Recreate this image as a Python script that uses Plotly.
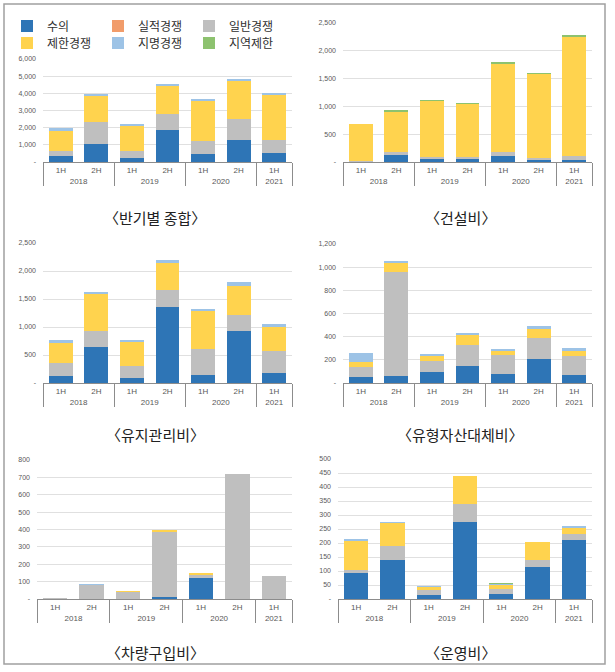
import plotly.graph_objects as go

years = ["2018", "2018", "2019", "2019", "2020", "2020", "2021"]
halves = ["1H", "2H", "1H", "2H", "1H", "2H", "1H"]

series_names = ["수의", "실적경쟁", "일반경쟁", "제한경쟁", "지명경쟁", "지역제한"]
series_colors = ["#2E75B6", "#F19C6B", "#BFBFBF", "#FFD34E", "#9DC3E6", "#8DC26F"]

titles = ["〈반기별 종합〉", "〈건설비〉", "〈유지관리비〉", "〈유형자산대체비〉", "〈차량구입비〉", "〈운영비〉"]

# panel 1: 반기별 종합
total_suui = [330, 1020, 255, 1840, 470, 1270, 510]
total_silj = [0, 0, 0, 0, 0, 0, 0]
total_ilban = [300, 1290, 410, 960, 730, 1260, 780]
total_jehan = [1180, 1570, 1490, 1650, 2370, 2170, 2590]
total_jimyeong = [200, 80, 55, 100, 100, 120, 160]
total_jiyeok = [0, 0, 0, 0, 0, 0, 0]

# panel 2: 건설비
con_suui = [5, 132, 54, 54, 100, 42, 36]
con_silj = [0, 0, 0, 0, 0, 0, 0]
con_ilban = [10, 48, 30, 36, 74, 30, 72]
con_jehan = [675, 737, 1019, 965, 1606, 1518, 2140]
con_jimyeong = [0, 0, 0, 0, 0, 0, 0]
con_jiyeok = [0, 5, 10, 3, 12, 10, 36]

# panel 3: 유지관리비
mnt_suui = [132, 646, 90, 1352, 150, 921, 179]
mnt_silj = [0, 0, 0, 0, 0, 0, 0]
mnt_ilban = [227, 281, 209, 305, 454, 287, 395]
mnt_jehan = [359, 670, 443, 490, 682, 532, 425]
mnt_jimyeong = [48, 12, 18, 42, 36, 60, 54]
mnt_jiyeok = [0, 0, 0, 0, 0, 0, 0]

# panel 4: 유형자산대체비
ast_suui = [49, 58, 95, 147, 78, 204, 72]
ast_silj = [0, 0, 0, 0, 0, 0, 0]
ast_ilban = [89, 897, 95, 181, 161, 187, 158]
ast_jehan = [43, 87, 49, 89, 37, 72, 46]
ast_jimyeong = [81, 11, 11, 18, 20, 26, 29]
ast_jiyeok = [0, 0, 0, 0, 0, 0, 0]

# panel 5: 차량구입비
veh_suui = [0, 0, 0, 10, 119, 0, 0]
veh_silj = [0, 0, 0, 0, 0, 0, 0]
veh_ilban = [3, 81, 42, 378, 21, 719, 131]
veh_jehan = [0, 0, 4, 6, 6, 0, 0]
veh_jimyeong = [0, 2, 0, 0, 0, 0, 0]
veh_jiyeok = [0, 0, 0, 0, 0, 0, 0]

# panel 6: 운영비
opr_suui = [92, 139, 14, 275, 18, 114, 209]
opr_silj = [0, 0, 0, 0, 0, 0, 0]
opr_ilban = [11, 50, 17, 65, 17, 25, 22]
opr_jehan = [105, 85, 12, 100, 15, 64, 24]
opr_jimyeong = [4, 1, 2, 0, 4, 0, 5]
opr_jiyeok = [0, 0, 0, 0, 1, 0, 0]

panels = [
    [total_suui, total_silj, total_ilban, total_jehan, total_jimyeong, total_jiyeok],
    [con_suui, con_silj, con_ilban, con_jehan, con_jimyeong, con_jiyeok],
    [mnt_suui, mnt_silj, mnt_ilban, mnt_jehan, mnt_jimyeong, mnt_jiyeok],
    [ast_suui, ast_silj, ast_ilban, ast_jehan, ast_jimyeong, ast_jiyeok],
    [veh_suui, veh_silj, veh_ilban, veh_jehan, veh_jimyeong, veh_jiyeok],
    [opr_suui, opr_silj, opr_ilban, opr_jehan, opr_jimyeong, opr_jiyeok],
]

y_max = [6000, 2500, 2500, 1200, 800, 500]
y_step = [1000, 500, 500, 200, 100, 50]

W, H = 615, 672
# plot-area boxes in pixels: (left, right, top, bottom)
boxes = [
    (43, 292, 59, 162),
    (343, 592, 23, 162),
    (43, 292, 243, 383),
    (343, 592, 244, 383),
    (37, 292, 460, 599),
    (338, 592, 459, 599),
]
title_pos = [(155, 217), (460, 217), (155, 434), (460, 434), (155, 652), (460, 652)]

fig = go.Figure()
TICK_FONT = dict(family="Liberation Sans, Arial", size=7, color="#595959")
XTICK_FONT = dict(family="Liberation Sans, Arial", size=8, color="#595959")

for p, series in enumerate(panels):
    ax = "" if p == 0 else str(p + 1)
    for s, vals in enumerate(series):
        fig.add_trace(go.Bar(
            x=[years, halves], y=vals, name=series_names[s],
            marker=dict(color=series_colors[s], line=dict(width=0)),
            xaxis="x" + ax, yaxis="y" + ax,
            showlegend=(p == 0),
            legend=("legend" if s < 3 else "legend2"),
            legendgroup=series_names[s],
            hoverinfo="y+name",
        ))
    l, r, t, b = boxes[p]
    tv = list(range(0, y_max[p] + 1, y_step[p]))
    tt = ["-" if v == 0 else f"{v:,}" for v in tv]
    fig.update_layout(**{
        "xaxis" + ax: dict(
            domain=[l / W, r / W], anchor="y" + ax, type="multicategory",
            showline=True, linecolor="#8c8c8c", linewidth=1,
            showdividers=True, dividercolor="#8c8c8c", dividerwidth=1,
            tickfont=XTICK_FONT, ticks="", showgrid=False, automargin=False,
        ),
        "yaxis" + ax: dict(
            domain=[1 - b / H, 1 - t / H], anchor="x" + ax,
            range=[0, y_max[p]], tickvals=tv, ticktext=tt,
            showgrid=True, gridcolor="#e0e0e0", gridwidth=0.8,
            zeroline=False, showline=False, tickfont=TICK_FONT,
            ticklabelstandoff=6, automargin=False,
        ),
    })
    tx, ty = title_pos[p]
    fig.add_annotation(
        x=tx / W, y=1 - ty / H, xref="paper", yref="paper",
        xanchor="center", yanchor="middle",
        text=titles[p], showarrow=False,
        font=dict(family="Noto Sans CJK KR", size=15, color="#222222"),
    )

# outer frame
fig.add_shape(type="rect", xref="paper", yref="paper",
              x0=4 / W, x1=605 / W, y0=1 - 664 / H, y1=1 - 4 / H,
              line=dict(color="#a0a0a0", width=1.5))

LEG_FONT = dict(family="Noto Sans CJK KR", size=12, color="#303030")
fig.update_layout(
    width=W, height=H,
    margin=dict(l=0, r=0, t=0, b=0, autoexpand=False),
    paper_bgcolor="white", plot_bgcolor="white",
    barmode="stack", bargap=0.33,
    legend=dict(orientation="h", x=7 / W, y=1 - 26 / H, xanchor="left", yanchor="middle",
                font=LEG_FONT, entrywidth=46, entrywidthmode="pixels",
                bgcolor="rgba(0,0,0,0)", itemwidth=30, tracegroupgap=0,
                borderwidth=0),
    legend2=dict(orientation="h", x=7 / W, y=1 - 43 / H, xanchor="left", yanchor="middle",
                 font=LEG_FONT, entrywidth=46, entrywidthmode="pixels",
                 bgcolor="rgba(0,0,0,0)", itemwidth=30, tracegroupgap=0,
                 borderwidth=0),
)

fig.write_html("out.html", config={"displayModeBar": False},
               post_script="document.body.style.margin='0';document.body.style.overflow='hidden';")
